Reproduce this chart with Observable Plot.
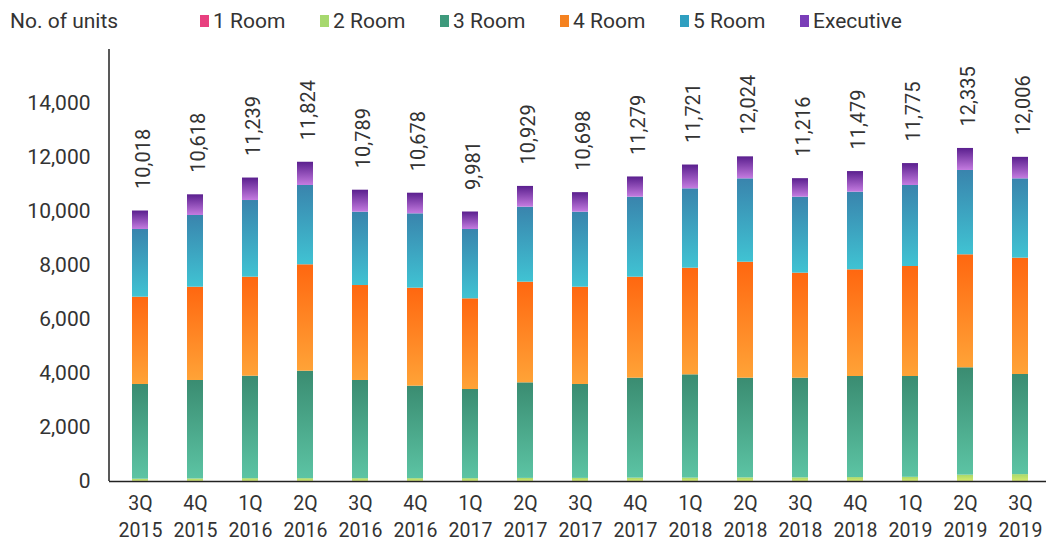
<!DOCTYPE html>
<html>
<head>
<meta charset="utf-8">
<script src="https://cdn.jsdelivr.net/npm/d3@7"></script>
<script src="https://cdn.jsdelivr.net/npm/@observablehq/plot@0.6"></script>
<style>
  body { margin: 0; background: #fff; font-family: Roboto, "Noto Sans", sans-serif; }
  #wrap { position: relative; width: 1046px; height: 547px; overflow: hidden; }
  #legend { position: absolute; left: 0; top: 0; width: 1046px; height: 44px; font-size: 21px; color: #333; }
  #legend .title { position: absolute; left: 10px; top: 8px; line-height: 26px; }
  #legend .items { position: absolute; left: 200px; top: 8px; display: flex; }
  #legend .item { width: 120px; display: flex; align-items: center; line-height: 26px; }
  #legend .sw { width: 9px; height: 12px; margin-right: 4px; flex: none; }
</style>
</head>
<body>
<div id="wrap">
  <div id="chart"></div>
  <div id="legend"><div class="title">No. of units</div><div class="items"></div></div>
</div>
<script>
const quarters = ["3Q 2015","4Q 2015","1Q 2016","2Q 2016","3Q 2016","4Q 2016","1Q 2017","2Q 2017","3Q 2017","4Q 2017","1Q 2018","2Q 2018","3Q 2018","4Q 2018","1Q 2019","2Q 2019","3Q 2019"];
const series = ["1 Room","2 Room","3 Room","4 Room","5 Room","Executive"];
const room1 = [5,5,5,5,5,5,5,5,5,5,5,5,5,5,5,5,5];
const room2 = [80,90,100,100,100,100,100,110,110,120,120,130,130,140,150,230,250];
const room3 = [3508,3646,3795,3980,3636,3426,3302,3539,3478,3702,3826,3692,3692,3744,3734,3976,3708];
const room4 = [3233,3455,3667,3941,3518,3629,3359,3729,3603,3740,3949,4295,3889,3951,4074,4185,4309];
const room5 = [2507,2656,2840,2937,2716,2754,2567,2777,2779,2963,2940,3088,2814,2876,3000,3123,2938];
const executive = [685,766,832,861,814,764,648,769,723,749,881,814,686,763,812,816,796];
const totals = [10018,10618,11239,11824,10789,10678,9981,10929,10698,11279,11721,12024,11216,11479,11775,12335,12006];
const yTicks = [0,2000,4000,6000,8000,10000,12000,14000];

const legendColors = ["#e8407f","#a6d86e","#3e9a7c","#f58220","#2f9fc0","#7a3db8"];
const gradTop = ["#e8407f","#a8d86a","#3a8c71","#ff6710","#3984ad","#5a1f8e"];
const gradBottom = ["#ee5a92","#d6ea6c","#5cc4a4","#ffa337","#40c3d3","#c47be0"];

const seriesValues = [room1, room2, room3, room4, room5, executive];
const rows = [];
quarters.forEach((q, i) => {
  series.forEach((s, k) => rows.push({quarter: q, type: s, units: seriesValues[k][i]}));
});
const labelRows = quarters.map((q, i) => ({quarter: q, total: totals[i]}));

const defsMark = () => {
  const g = d3.create("svg:defs");
  series.forEach((s, k) => {
    const lg = g.append("linearGradient").attr("id", "grad" + k)
      .attr("x1", 0).attr("y1", 0).attr("x2", 0).attr("y2", 1);
    lg.append("stop").attr("offset", "0%").attr("stop-color", gradTop[k]);
    lg.append("stop").attr("offset", "100%").attr("stop-color", gradBottom[k]);
  });
  return g.node();
};

const yLineMark = (index, scales, values, dims) => {
  return d3.create("svg:line")
    .attr("x1", dims.marginLeft).attr("x2", dims.marginLeft)
    .attr("y1", dims.marginTop).attr("y2", dims.height - dims.marginBottom)
    .attr("stroke", "#222").attr("stroke-width", 1.5).node();
};

const fmt = d3.format(",");

const chart = Plot.plot({
  width: 1046,
  height: 547,
  marginLeft: 109,
  marginRight: -4,
  marginTop: 49,
  marginBottom: 66,
  style: {fontFamily: "Roboto, sans-serif", color: "#333", background: "#fff"},
  x: {domain: quarters, paddingInner: 0.71, paddingOuter: 0.36, axis: null},
  y: {domain: [0, 16000], axis: null},
  color: {domain: series, range: series.map((s, k) => `url(#grad${k})`), legend: false},
  marks: [
    defsMark,
    Plot.barY(rows, {x: "quarter", y: "units", fill: "type", order: series}),
    Plot.ruleY([0], {stroke: "#222", strokeWidth: 1.5}),
    yLineMark,
    Plot.axisY({ticks: yTicks, tickSize: 0, tickPadding: 19, tickFormat: fmt, fontSize: 21, fill: "#333", label: null}),
    Plot.axisX({tickSize: 0, tickPadding: 9, tickFormat: d => d.replace(" ", "\n"), fontSize: 19.5, lineHeight: 1.38, fill: "#333", label: null}),
    Plot.text(labelRows, {x: "quarter", y: "total", text: d => fmt(d.total), rotate: -90, textAnchor: "start", lineAnchor: "middle", dy: -22, dx: 3, fontSize: 20, fill: "#333"})
  ]
});
document.getElementById("chart").appendChild(chart);

const items = d3.select("#legend .items");
series.forEach((s, k) => {
  const it = items.append("div").attr("class", "item");
  it.append("div").attr("class", "sw").style("background", legendColors[k]);
  it.append("span").text(s);
});
</script>
</body>
</html>
